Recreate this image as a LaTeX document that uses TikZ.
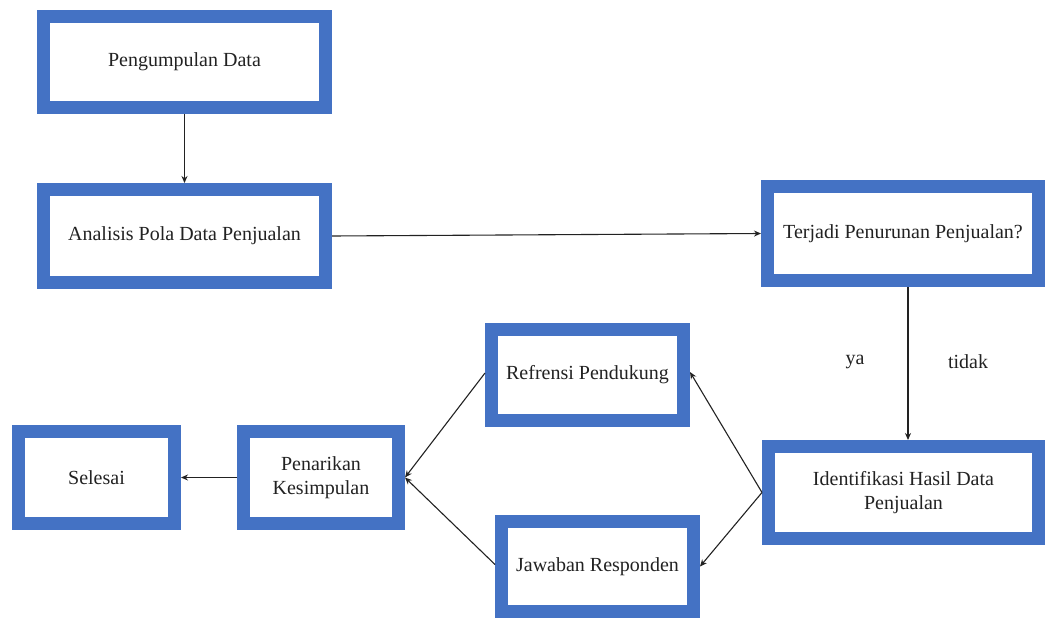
\documentclass[tikz,border=0pt]{standalone}
\usepackage{fontspec}
\setmainfont{Liberation Serif}
\usetikzlibrary{arrows.meta}
\definecolor{boxblue}{HTML}{4472C4}
\definecolor{ink}{HTML}{222222}
\tikzset{
  fbox/.style={draw=boxblue, line width=13pt, fill=white, rectangle, align=center,
    font=\fontsize{20}{24}\selectfont, text=ink, inner sep=0pt},
  conn/.style={draw=ink, line width=1.1pt, -{Stealth[length=7pt,width=6pt]}},
  lbl/.style={font=\fontsize{20}{24}\selectfont, text=ink, inner sep=0pt}
}
\begin{document}
\begin{tikzpicture}[x=1pt,y=-1pt]
\useasboundingbox (0,0) rectangle (1049,618);
\node[fbox, minimum width=282pt, minimum height=91pt] (p) at (184.5,62) {Pengumpulan Data};
\node[fbox, minimum width=282pt, minimum height=93pt] (a) at (184.5,236) {Analisis Pola Data Penjualan};
\node[fbox, minimum width=271pt, minimum height=94pt] (t) at (903,233.5) {Terjadi Penurunan Penjualan?};
\node[fbox, minimum width=192pt, minimum height=91pt] (r) at (587.5,375) {Refrensi Pendukung};
\node[fbox, minimum width=156pt, minimum height=92pt] (s) at (96.5,477.5) {Selesai};
\node[fbox, minimum width=155pt, minimum height=92pt] (k) at (321,477.5) {Penarikan\\Kesimpulan};
\node[fbox, minimum width=192pt, minimum height=90pt] (j) at (597.5,566.5) {Jawaban Responden};
\node[fbox, minimum width=270pt, minimum height=92pt] (i) at (903.5,492.5) {Identifikasi Hasil Data\\Penjualan};
\node[lbl] (ya) at (855,362) {ya};
\node[lbl] (td) at (968,362) {tidak};
\draw[conn] (p.south) -- (a.north);
\draw[conn] (a.east) -- (t.west);
\draw[conn] ([xshift=5pt]t.south) -- ([xshift=4.5pt]i.north);
\draw[conn] (i.west) -- ([yshift=3pt]r.east);
\draw[conn] (i.west) -- (j.east);
\draw[conn] ([yshift=2pt]r.west) -- (k.east);
\draw[conn] ([yshift=2pt]j.west) -- (k.east);
\draw[conn] (k.west) -- (s.east);
\end{tikzpicture}
\end{document}
